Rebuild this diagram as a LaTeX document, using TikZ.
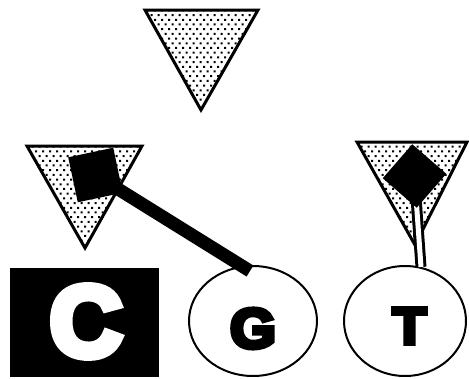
\documentclass[tikz,border=0pt]{standalone}
\usepackage{fontspec}
\setmainfont{Liberation Sans}
\newfontfamily\heavyfont[FakeBold=8]{Liberation Sans}
\usetikzlibrary{shapes.geometric,patterns}
\pgfdeclarepatternformonly{sdots}{\pgfqpoint{-1pt}{-1pt}}{\pgfqpoint{8pt}{10.4pt}}{\pgfqpoint{7pt}{9.4pt}}{%
  \pgfpathrectangle{\pgfqpoint{0pt}{0pt}}{\pgfqpoint{2pt}{2pt}}%
  \pgfpathrectangle{\pgfqpoint{3.5pt}{4.7pt}}{\pgfqpoint{2pt}{2pt}}%
  \pgfusepath{fill}}
\tikzset{
  tri/.style={line width=3pt, line join=miter, preaction={fill=white}, pattern=sdots},
  blk/.style={rectangle, fill=black, inner sep=0pt, minimum size=46pt},
  oval/.style={ellipse, draw, line width=2pt, fill=white, inner sep=0pt},
  letter/.style={font=\heavyfont\bfseries, inner sep=0pt},
  bar/.style={line width=13pt, line cap=butt},
  dbl/.style={double, line width=3pt, double distance=5pt, line cap=butt}
}
\begin{document}
\begin{tikzpicture}[x=1pt,y=-1pt]
\useasboundingbox[fill=white] (0,0) rectangle (469,378);
% triangles
\coordinate (t1a) at (145,10); \coordinate (t1b) at (258,10); \coordinate (t1c) at (201,110);
\coordinate (t2a) at (27,146); \coordinate (t2b) at (142,146); \coordinate (t2c) at (85,248);
\coordinate (t3a) at (357,142); \coordinate (t3b) at (467,142); \coordinate (t3c) at (415,245);
\draw[tri] (t1a) -- (t1b) -- (t1c) -- cycle;
\draw[tri] (t2a) -- (t2b) -- (t2c) -- cycle;
\draw[tri] (t3a) -- (t3b) -- (t3c) -- cycle;
% bottom row
\node[rectangle, fill=black, inner sep=0pt, minimum width=149pt, minimum height=109pt] (C) at (84.5,322.5) {};
\node[letter, text=white] (Cl) at (86,321.5) {\fontsize{100}{100}\selectfont C};
\node[oval, minimum width=128pt, minimum height=110pt] (G) at (253,321) {};
\node[letter] (Gl) at (253,328.5) {\fontsize{56}{56}\selectfont\scalebox{1.05}[1]{G}};
\node[oval, minimum width=122pt, minimum height=110pt] (T) at (405,321) {};
\node[letter] (Tl) at (409.5,326) {\fontsize{52}{52}\selectfont\scalebox{1.05}[1]{T}};
% connectors
\node[blk, rotate=12] (sq) at (95.5,175) {};
\coordinate (gtop) at (250,271);
\draw[bar] (sq.center) -- (gtop);
\coordinate (dmc) at (414.5,176);
\coordinate (ttop) at (421,267);
\draw[dbl] (dmc) -- (ttop);
\node[blk, minimum size=45pt, rotate=-41] (dm) at (dmc) {};
\end{tikzpicture}
\end{document}
